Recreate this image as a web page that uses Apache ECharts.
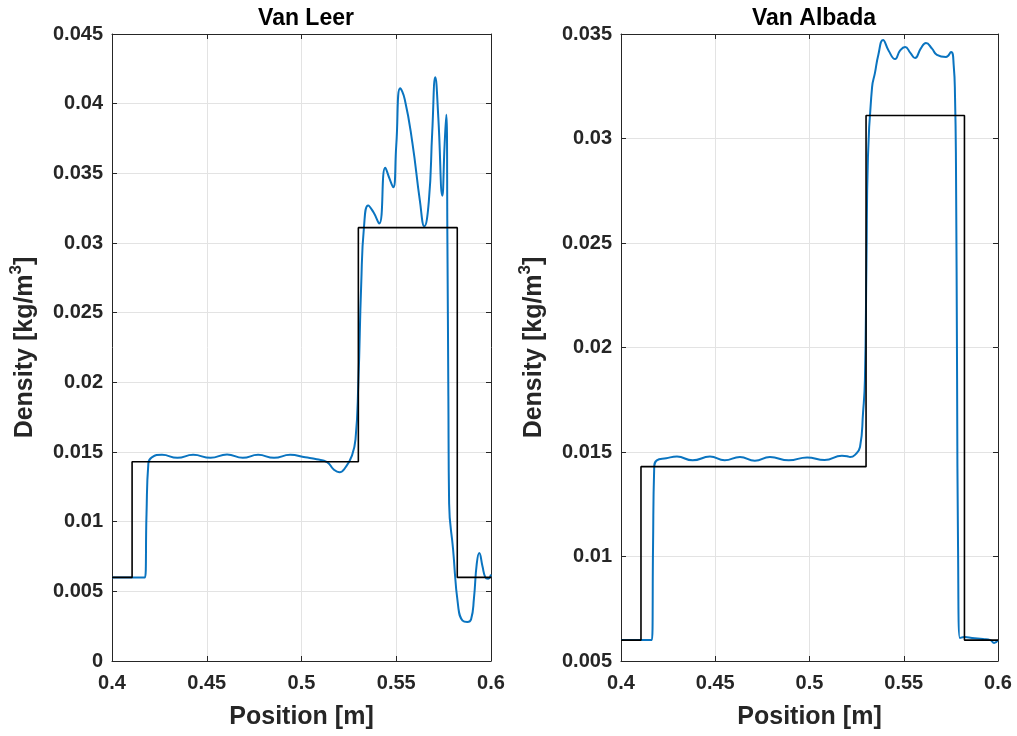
<!DOCTYPE html>
<html>
<head>
<meta charset="utf-8">
<script src="https://cdn.jsdelivr.net/npm/echarts@6/dist/echarts.min.js"></script>
<style>
  html, body { margin: 0; padding: 0; background: #fff; }
  #chart { width: 1017px; height: 736px; }
</style>
</head>
<body>
<div id="chart"></div>
<script>
// Panel titles
const panelTitles = ['Van Leer', 'Van Albada'];

// Axis ticks
const xTicks = [0.4, 0.45, 0.5, 0.55, 0.6];
const yTicksLeer = [0, 0.005, 0.01, 0.015, 0.02, 0.025, 0.03, 0.035, 0.04, 0.045];
const yTicksAlbada = [0.005, 0.01, 0.015, 0.02, 0.025, 0.03, 0.035];

// Exact solution (piecewise constant density) [position, density]
const exactProfile = [
  [0.4, 0.006], [0.4106, 0.006], [0.4106, 0.0143], [0.5300, 0.0143],
  [0.5300, 0.0311], [0.5822, 0.0311], [0.5822, 0.006], [0.6, 0.006]
];

// Van Leer limiter numerical solution [position, density]
const vanLeerProfile = [
  [0.4, 0.006], [0.4174, 0.006], [0.4182, 0.0105], [0.4192, 0.0142], [0.4210, 0.01462],
  [0.4264, 0.01480], [0.4345, 0.01458], [0.4428, 0.01480], [0.4520, 0.01458],
  [0.4607, 0.01482], [0.4690, 0.01458], [0.4771, 0.01480], [0.4855, 0.01458],
  [0.4940, 0.01480], [0.5020, 0.01462], [0.5080, 0.01448], [0.5135, 0.01428],
  [0.5170, 0.01375], [0.5200, 0.01355], [0.5235, 0.01395], [0.5265, 0.01470],
  [0.5285, 0.01590], [0.5300, 0.0200], [0.5315, 0.0270], [0.5330, 0.0312],
  [0.5352, 0.0327], [0.5380, 0.0322], [0.5410, 0.0314], [0.5442, 0.0354],
  [0.5465, 0.0346], [0.5484, 0.0340], [0.5500, 0.0370], [0.5521, 0.0411],
  [0.5545, 0.0403], [0.5585, 0.0372], [0.5625, 0.0330], [0.5648, 0.0312],
  [0.5672, 0.0330], [0.5690, 0.0380], [0.5706, 0.0419], [0.5722, 0.0390],
  [0.5743, 0.0334], [0.5755, 0.0370], [0.5764, 0.0392], [0.5770, 0.0300],
  [0.5775, 0.0190], [0.5779, 0.0113], [0.5800, 0.0080], [0.5827, 0.0039],
  [0.5850, 0.0029], [0.5875, 0.0028], [0.5895, 0.0030], [0.5910, 0.0045],
  [0.5925, 0.0070], [0.5938, 0.00775], [0.5955, 0.0068], [0.5970, 0.0060],
  [0.5985, 0.0059], [0.6, 0.0062]
];

// Van Albada limiter numerical solution [position, density]
const vanAlbadaProfile = [
  [0.4, 0.006], [0.4164, 0.006], [0.4170, 0.0105], [0.4176, 0.0142], [0.4190, 0.01460],
  [0.4240, 0.01470], [0.4297, 0.01478], [0.4380, 0.01460], [0.4472, 0.01478],
  [0.4550, 0.01460], [0.4631, 0.01476], [0.4710, 0.01458], [0.4790, 0.01476],
  [0.4890, 0.01460], [0.4987, 0.01474], [0.5080, 0.01462], [0.5172, 0.01482],
  [0.5200, 0.01480], [0.5215, 0.01476], [0.5240, 0.01485], [0.5268, 0.01524],
  [0.5284, 0.01687], [0.5294, 0.01844], [0.5302, 0.0240], [0.5310, 0.02911],
  [0.5332, 0.03246], [0.5347, 0.03313], [0.5365, 0.0340], [0.5390, 0.03471],
  [0.5420, 0.0342], [0.5454, 0.0338], [0.5480, 0.0342], [0.5507, 0.03438],
  [0.5535, 0.0341], [0.5560, 0.03385], [0.5590, 0.0343], [0.5618, 0.03457],
  [0.5650, 0.0343], [0.5676, 0.0340], [0.5724, 0.0339], [0.5751, 0.03414],
  [0.5765, 0.0335], [0.5772, 0.0320], [0.5777, 0.02883], [0.5783, 0.01844],
  [0.5788, 0.01046], [0.5798, 0.0061], [0.5825, 0.00615], [0.5862, 0.0061],
  [0.5920, 0.00605], [0.5960, 0.0060], [0.5979, 0.00586], [0.6, 0.0060]
];

const axisColor = '#262626';
const gridColor = '#e3e3e3';
const fontFamily = '"Liberation Sans", Arial, Helvetica, sans-serif';

const fmt = v => String(+v.toFixed(4));

function xAxisFor(gridIndex) {
  return [{
    type: 'value', gridIndex,
    min: xTicks[0], max: xTicks[xTicks.length - 1], interval: xTicks[1] - xTicks[0],
    name: 'Position [m]', nameLocation: 'middle', nameGap: 44,
    nameTextStyle: { color: axisColor, fontFamily, fontWeight: 'bold', fontSize: 25 },
    axisLine: { show: true, onZero: false, lineStyle: { color: axisColor, width: 1 } },
    axisTick: { show: true, inside: true, length: 5, lineStyle: { color: axisColor } },
    axisLabel: { color: axisColor, fontFamily, fontWeight: 'bold', fontSize: 20, margin: 12, formatter: fmt },
    splitLine: { show: true, lineStyle: { color: gridColor, width: 1 } }
  }, {
    type: 'value', gridIndex, position: 'top',
    min: xTicks[0], max: xTicks[xTicks.length - 1], interval: xTicks[1] - xTicks[0],
    axisLine: { show: true, onZero: false, lineStyle: { color: axisColor, width: 1 } },
    axisTick: { show: true, inside: true, length: 5, lineStyle: { color: axisColor } },
    axisLabel: { show: false }, splitLine: { show: false }
  }];
}

function yAxisFor(gridIndex, ticks) {
  const common = {
    type: 'value', gridIndex,
    min: ticks[0], max: ticks[ticks.length - 1], interval: ticks[1] - ticks[0]
  };
  return [Object.assign({}, common, {
    name: 'Density [kg/m{sup|3}]', nameLocation: 'middle', nameGap: 70,
    nameTextStyle: {
      color: axisColor, fontFamily, fontWeight: 'bold', fontSize: 25, lineHeight: 34,
      rich: { sup: { color: axisColor, fontFamily, fontWeight: 'bold', fontSize: 17, lineHeight: 34, verticalAlign: 'top' } }
    },
    axisLine: { show: true, onZero: false, lineStyle: { color: axisColor, width: 1 } },
    axisTick: { show: true, inside: true, length: 5, lineStyle: { color: axisColor } },
    axisLabel: { color: axisColor, fontFamily, fontWeight: 'bold', fontSize: 20, margin: 9, formatter: fmt },
    splitLine: { show: true, lineStyle: { color: gridColor, width: 1 } }
  }), Object.assign({}, common, {
    position: 'right',
    axisLine: { show: true, onZero: false, lineStyle: { color: axisColor, width: 1 } },
    axisTick: { show: true, inside: true, length: 5, lineStyle: { color: axisColor } },
    axisLabel: { show: false }, splitLine: { show: false }
  })];
}

function numericSeries(data, xi, yi) {
  return {
    type: 'line', data, xAxisIndex: xi, yAxisIndex: yi,
    showSymbol: false, smooth: 0.5,
    lineStyle: { color: '#0a74c0', width: 2 }, z: 3
  };
}

function exactSeries(xi, yi) {
  return {
    type: 'line', data: exactProfile, xAxisIndex: xi, yAxisIndex: yi,
    showSymbol: false, lineStyle: { color: '#000000', width: 1.6 }, z: 4
  };
}

const chart = echarts.init(document.getElementById('chart'), null, { renderer: 'canvas' });
chart.setOption({
  backgroundColor: '#ffffff',
  animation: false,
  title: [
    { text: panelTitles[0], left: 301, top: 2, textAlign: 'center',
      textStyle: { color: '#000', fontFamily, fontWeight: 'bold', fontSize: 23 } },
    { text: panelTitles[1], left: 809, top: 2, textAlign: 'center',
      textStyle: { color: '#000', fontFamily, fontWeight: 'bold', fontSize: 23 } }
  ],
  grid: [
    { left: 112, right: 526, top: 34, bottom: 75 },
    { left: 621, right: 19, top: 34, bottom: 75 }
  ],
  xAxis: [...xAxisFor(0), ...xAxisFor(1)],
  yAxis: [...yAxisFor(0, yTicksLeer), ...yAxisFor(1, yTicksAlbada)],
  series: [
    numericSeries(vanLeerProfile, 0, 0),
    exactSeries(0, 0),
    numericSeries(vanAlbadaProfile, 2, 2),
    exactSeries(2, 2)
  ]
});
</script>
</body>
</html>
